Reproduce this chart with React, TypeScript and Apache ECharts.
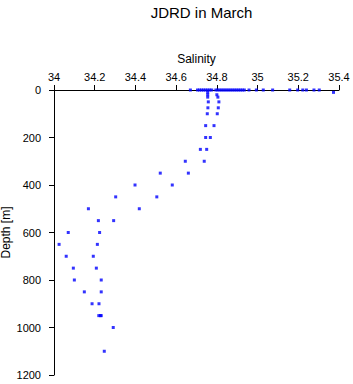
import React, { useEffect, useRef } from "react";
import * as echarts from "echarts";

const titleText = "JDRD in March";
const xName = "Salinity";
const yName = "Depth [m]";

const depths = [
  0, 0, 0, 0, 0, 0, 0, 0, 0, 0, 0, 0, 0, 0, 0, 0, 0, 0, 0, 0, 0, 0, 0, 0, 0, 0, 0, 0, 0, 0, 0, 0, 0, 0,
  10, 10, 20, 20, 30, 30,
  50, 50, 75, 75, 100, 100, 150, 150, 200, 200, 250, 250, 300, 300,
  350, 350, 400, 400, 450, 450, 500, 500, 550, 550, 600, 600, 650, 650,
  700, 700, 750, 750, 800, 800, 850, 850, 900, 900, 950, 950, 950, 1000, 1100,
];

const salinity = [
  34.67, 34.705, 34.715, 34.725, 34.735, 34.745, 34.755, 34.765, 34.775, 34.795, 34.805, 34.815,
  34.825, 34.835, 34.845, 34.855, 34.865, 34.875, 34.885, 34.895, 34.905, 34.915, 34.925, 34.935,
  34.958, 34.994, 35.028, 35.074, 35.158, 35.197, 35.222, 35.24, 35.277, 35.303, 35.373,
  34.755, 34.8, 34.755, 34.805, 34.755, 34.81,
  34.758, 34.807, 34.756, 34.802, 34.753, 34.786, 34.745, 34.768, 34.745, 34.75, 34.719, 34.738, 34.645, 34.66,
  34.522, 34.581, 34.398, 34.505, 34.303, 34.419, 34.169, 34.293, 34.218, 34.224, 34.07, 34.213, 34.025, 34.193,
  34.06, 34.208, 34.095, 34.232, 34.1, 34.232, 34.149, 34.221, 34.187, 34.232, 34.22, 34.228, 34.291, 34.247, 34.303,
];

const xTicks = { min: 34, max: 35.4, interval: 0.2 };
const yTicks = { min: 0, max: 1200, interval: 200 };

export default function App() {
  const ref = useRef<HTMLDivElement>(null);
  useEffect(() => {
    if (!ref.current) return;
    const chart = echarts.init(ref.current, null, { renderer: "svg" });
    const font = "'Liberation Sans', Arial, sans-serif";
    const points = salinity.map((s, i) => [s, depths[i]]);
    chart.setOption({
      animation: false,
      backgroundColor: "#ffffff",
      title: {
        text: titleText,
        left: 196.5,
        textAlign: "center",
        top: 0,
        textStyle: { fontFamily: font, fontSize: 15, fontWeight: "normal", color: "#000" },
      },
      grid: { left: 54, right: 14, top: 90, bottom: 9, containLabel: false, outerBoundsMode: "none" },
      xAxis: {
        type: "value",
        position: "top",
        min: xTicks.min,
        max: xTicks.max,
        interval: xTicks.interval,
        name: xName,
        nameLocation: "middle",
        nameGap: 25,
        nameMoveOverlap: false,
        nameTextStyle: { fontFamily: font, fontSize: 12, color: "#000" },
        axisLine: { show: true, onZero: false, lineStyle: { color: "#000", width: 1 } },
        axisTick: { show: true, inside: false, length: 5, lineStyle: { color: "#000" } },
        axisLabel: {
          fontFamily: font,
          fontSize: 11,
          color: "#000",
          margin: 8,
          formatter: (v: number) => String(Math.round(v * 10) / 10),
        },
        splitLine: { show: false },
      },
      yAxis: {
        type: "value",
        inverse: true,
        min: yTicks.min,
        max: yTicks.max,
        interval: yTicks.interval,
        name: yName,
        nameLocation: "middle",
        nameGap: 42,
        nameRotate: 90,
        nameMoveOverlap: false,
        nameTextStyle: { fontFamily: font, fontSize: 12, color: "#000" },
        axisLine: { show: true, onZero: false, lineStyle: { color: "#000", width: 1 } },
        axisTick: { show: true, inside: false, length: 5, lineStyle: { color: "#000" } },
        axisLabel: {
          fontFamily: font,
          fontSize: 11,
          color: "#000",
          margin: 13,
          formatter: (v: number) => String(v),
        },
        splitLine: { show: false },
      },
      series: [
        {
          type: "scatter",
          data: points,
          symbol: "rect",
          symbolSize: 3,
          itemStyle: { color: "#0000ff" },
          clip: false,
        },
      ],
    });
    return () => chart.dispose();
  }, []);
  return (
    <div
      ref={ref}
      style={{ position: "fixed", left: 0, top: 0, width: 353, height: 384, background: "#fff" }}
    />
  );
}
